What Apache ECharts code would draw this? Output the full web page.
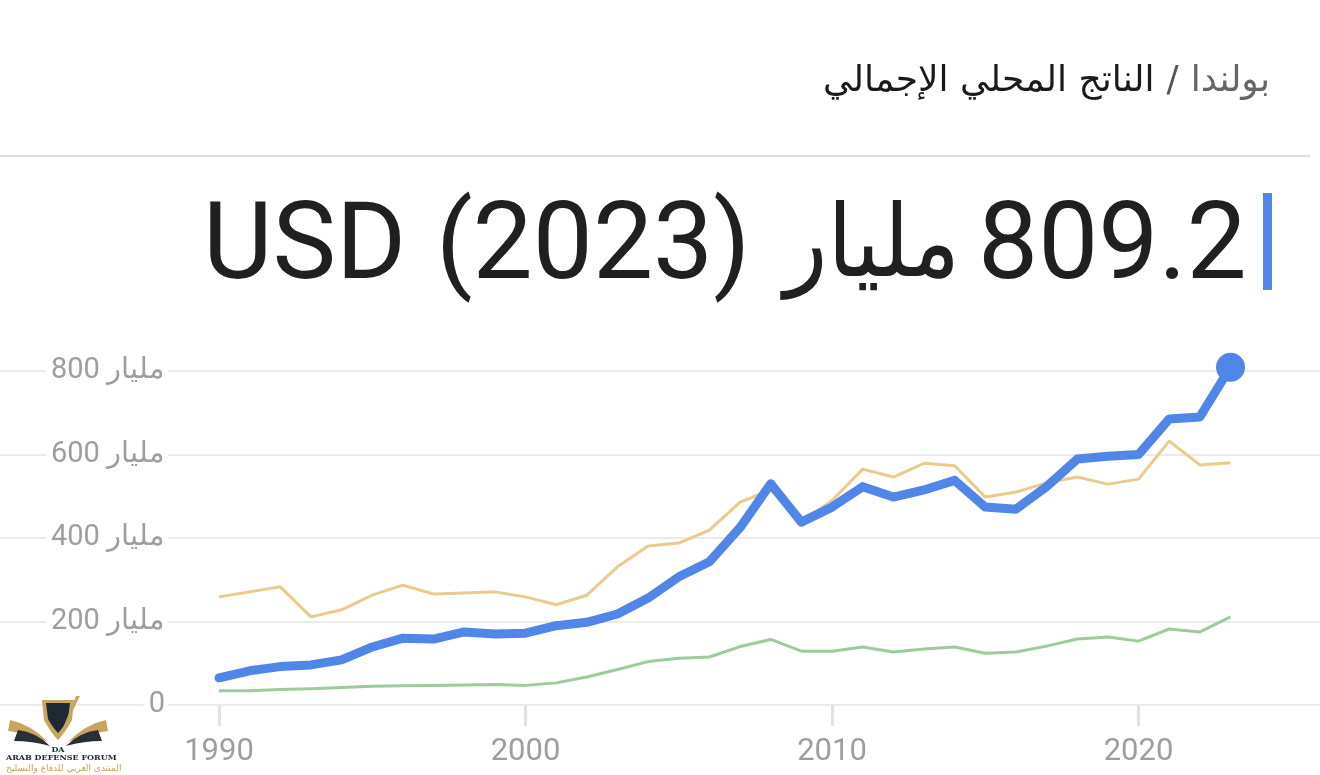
<!DOCTYPE html>
<html>
<head>
<meta charset="utf-8">
<script src="https://cdn.jsdelivr.net/npm/echarts@6/dist/echarts.min.js"></script>
<style>
  html, body { margin:0; padding:0; background:#fff; width:1320px; height:775px; overflow:hidden; }
  #chart { position:absolute; left:0; top:0; width:1320px; height:775px; }
  .crumb { position:absolute; right:50px; top:58px; direction:rtl; font-family:"DejaVu Sans","Noto Sans",sans-serif; font-size:36px; color:#1a1a1a; white-space:nowrap; }
  .crumb .c { color:#666; }
  .crumb .s { color:#555; padding:0 12px; }
  .sep { position:absolute; left:0; top:155px; width:1310px; height:2px; background:#dedede; }
  .t { position:absolute; top:172px; font-family:Roboto,"DejaVu Sans",sans-serif; font-size:107px; color:#202020; white-space:nowrap; line-height:140px; }
  .bar { position:absolute; left:1263px; top:193px; width:9px; height:97px; background:#5086e8; }
  .wm { position:absolute; left:6px; top:696px; width:104px; }
  .wm .e { position:absolute; left:0; top:56px; width:104px; text-align:center; font-family:"DejaVu Serif",serif; font-size:8px; color:#1d2a33; font-weight:bold; white-space:nowrap; }
  .wm .a { position:absolute; left:0; top:67px; width:104px; text-align:center; font-size:9px; color:#c8a458; font-family:"DejaVu Sans",sans-serif; white-space:nowrap; }
</style>
</head>
<body>
<div id="chart"></div>
<div class="crumb"><span class="c">بولندا</span><span class="s">/</span><span>الناتج المحلي الإجمالي</span></div>
<div class="sep"></div>
<div class="t" style="left:203px">USD</div>
<div class="t" style="left:436px">(2023)</div>
<div class="t" style="left:784px;font-family:'DejaVu Sans',sans-serif;font-size:100px;transform:scaleX(0.9);transform-origin:left center" dir="rtl">مليار</div>
<div class="t" style="left:978px">809.2</div>
<div class="bar"></div>
<div class="wm">
  <svg width="104" height="58" viewBox="0 0 104 58">
    <path d="M4 24 Q24 28 42 46 Q24 38 2 35 Z" fill="#c9a55b"/>
    <path d="M12 34 Q30 36 44 50 Q26 45 8 45 Z" fill="#2a2f36"/>
    <path d="M100 24 Q80 28 62 46 Q80 38 102 35 Z" fill="#c9a55b"/>
    <path d="M92 34 Q74 36 60 50 Q78 45 96 45 Z" fill="#2a2f36"/>
    <path d="M36 4 L68 4 L66 24 Q59 37 52 44 Q45 37 38 24 Z" fill="#c9a55b"/>
    <path d="M40 7 L64 7 L62 23 Q57 32 52 37 Q47 32 42 23 Z" fill="#1c2a36"/>
    <path d="M52 44 L74 0 L70 0 Z" fill="#c9a55b"/>
    <text x="52" y="56" text-anchor="middle" font-family="DejaVu Serif" font-weight="bold" font-size="8" fill="#1c2a36">DA</text>
  </svg>
  <div class="e">ARAB DEFENSE FORUM</div>
  <div class="a">المنتدى العربي للدفاع والتسليح</div>
</div>
<script>
const years = [1990,1991,1992,1993,1994,1995,1996,1997,1998,1999,2000,2001,2002,2003,2004,2005,2006,2007,2008,2009,2010,2011,2012,2013,2014,2015,2016,2017,2018,2019,2020,2021,2022,2023];
const poland = [65,82,92,96,108,139,160,158,175,170,172,190,198,218,256,307,343,425,530,438,474,523,498,515,538,474,469,523,589,596,600,685,690,809];
const yellowSeries = [259,271,283,211,228,263,287,266,268,271,259,240,263,331,381,388,419,486,515,437,490,565,546,579,573,498,510,532,546,529,541,632,575,580];
const greenSeries = [34,34,37,39,42,45,46,47,48,49,47,53,67,85,104,112,115,140,157,129,129,139,127,134,139,124,127,141,158,163,153,182,175,211];
const xTicks = [1990,2000,2010,2020];
const unit = 'مليار';

const pair = arr => years.map((y,i) => [y, arr[i]]);
const chart = echarts.init(document.getElementById('chart'));
chart.setOption({
  animation:false,
  grid:{left:0, right:0, top:371, bottom:70, containLabel:false, outerBoundsMode:'none'},
  xAxis:{
    type:'value', min:1982.855, max:2025.92,
    axisLine:{show:false},
    splitLine:{show:false},
    axisTick:{show:true, customValues:xTicks, length:21, lineStyle:{color:'#e2e2e2', width:3}},
    axisLabel:{customValues:xTicks, margin:32, color:'#9e9e9e', fontSize:31, fontFamily:'Roboto', formatter:v=>String(v)}
  },
  yAxis:{
    type:'value', min:0, max:800, interval:200,
    axisLine:{show:false}, axisTick:{show:false},
    splitLine:{lineStyle:{color:'#ebebeb', width:2}},
    axisLabel:{inside:false, margin:-168, color:'#9e9e9e', fontSize:29, fontFamily:'Roboto',
      backgroundColor:'#fff', padding:[0,3,0,5],
      formatter:v=> v===0 ? '0' : (v + ' ' + unit)}
  },
  series:[
    {type:'line', data:pair(greenSeries), symbol:'none', clip:false, lineStyle:{color:'#9dcb9d', width:3, join:'round'}, z:2},
    {type:'line', data:pair(yellowSeries), symbol:'none', clip:false, lineStyle:{color:'#ebcb8b', width:3, join:'round'}, z:3},
    {type:'line', data:pair(poland), symbol:'none', clip:false, lineStyle:{color:'#4f86e8', width:9, join:'round', cap:'round'}, z:4},
    {type:'scatter', data:[[years[years.length-1], poland[poland.length-1]]], symbolSize:29, clip:false, itemStyle:{color:'#4f86e8', opacity:1}, z:5}
  ]
});
</script>
</body>
</html>
